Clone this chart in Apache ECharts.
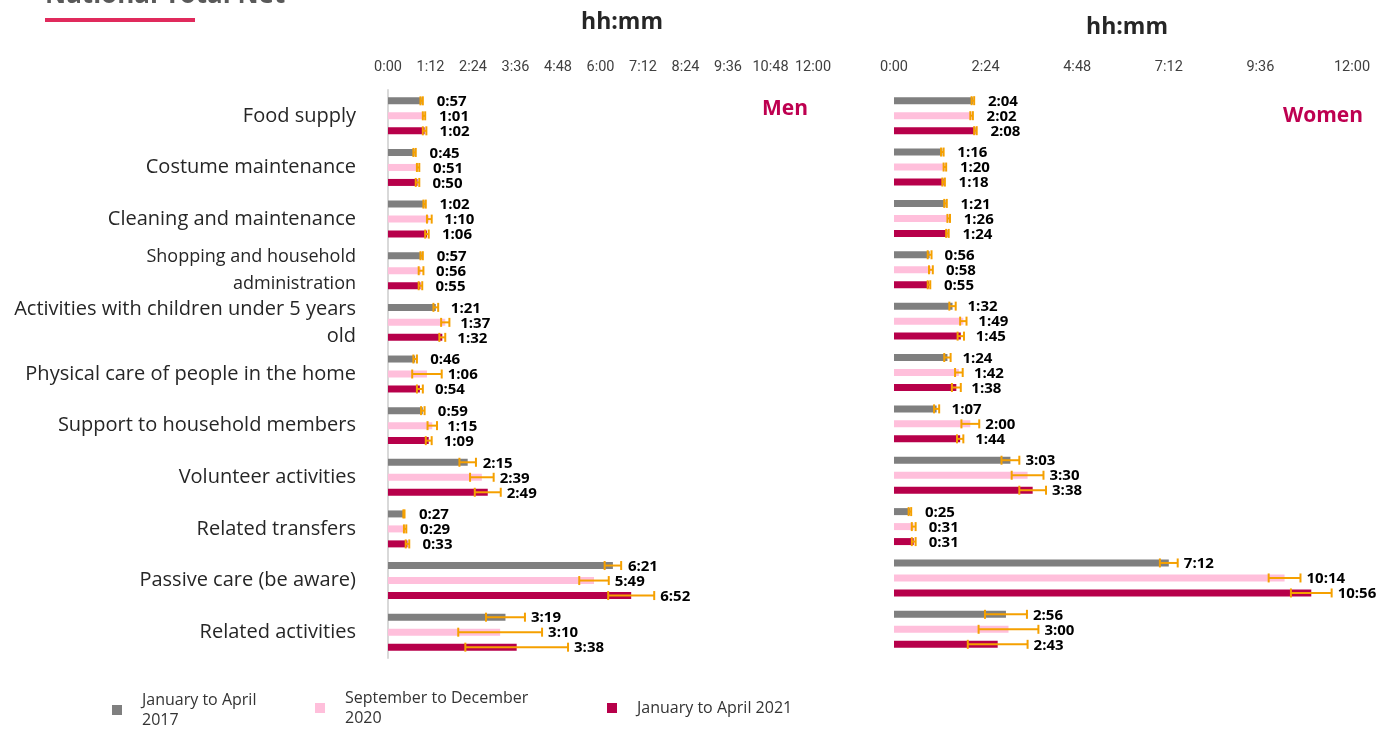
<!DOCTYPE html>
<html>
<head>
<meta charset="utf-8">
<script src="https://cdn.jsdelivr.net/npm/echarts@6/dist/echarts.min.js"></script>
<style>
html, body { margin: 0; padding: 0; background: #fff; }
#chart { width: 1381px; height: 733px; }
</style>
</head>
<body>
<div id="chart"></div>
<script>
// categories (top to bottom)
var categories = [
    'Food supply',
    'Costume maintenance',
    'Cleaning and maintenance',
    'Shopping and household\nadministration',
    'Activities with children under 5 years\nold',
    'Physical care of people in the home',
    'Support to household members',
    'Volunteer activities',
    'Related transfers',
    'Passive care (be aware)',
    'Related activities'
];
var periods = ['January to April 2017', 'September to December 2020', 'January to April 2021'];
var periodLabels = ['January to April\n2017', 'September to December\n2020', 'January to April 2021'];

// values in minutes
var men2017 = [57, 45, 62, 57, 81, 46, 59, 135, 27, 381, 199];
var men2020 = [61, 51, 70, 56, 97, 66, 75, 159, 29, 349, 190];
var men2021 = [62, 50, 66, 55, 92, 54, 69, 169, 33, 412, 218];
var menErr2017 = [2, 2, 2, 2, 4, 3, 3, 14, 1, 14, 33];
var menErr2020 = [2, 2, 4, 4, 7, 25, 8, 20, 2, 25, 71];
var menErr2021 = [3, 3, 3, 3, 5, 5, 5, 22, 3, 39, 87];

var women2017 = [124, 76, 81, 56, 92, 84, 67, 183, 25, 432, 176];
var women2020 = [122, 80, 86, 58, 109, 102, 120, 210, 31, 614, 180];
var women2021 = [128, 78, 84, 55, 105, 98, 104, 218, 31, 656, 163];
var womenErr2017 = [2, 2, 2, 3, 5, 5, 4, 14, 2, 14, 33];
var womenErr2020 = [2, 2, 2, 3, 5, 6, 14, 25, 3, 25, 47];
var womenErr2021 = [2, 2, 2, 2, 5, 7, 5, 21, 3, 32, 47];

var menTickStep = 72;
var womenTickStep = 144;
var axisMax = 720;

var colors = ['#7f7f7f', '#ffbfdb', '#b7004a'];
var orange = '#f5a000';

function hm(min) {
    var h = Math.floor(min / 60);
    var m = Math.round(min % 60);
    return h + ':' + (m < 10 ? '0' + m : m);
}

function errData(vals, errs) {
    return vals.map(function (v, i) {
        return [i, v - errs[i], v + errs[i], v];
    });
}

function errorBars(offset) {
    return function (params, api) {
        var cat = api.value(0);
        var lo = api.coord([api.value(1), cat]);
        var hi = api.coord([api.value(2), cat]);
        var end = api.coord([api.value(3), cat]);
        var y = lo[1] + offset;
        var cap = 4.5;
        var st = { stroke: orange, lineWidth: 2 };
        return {
            type: 'group',
            children: [
                { type: 'line', shape: { x1: lo[0], y1: y, x2: hi[0], y2: y }, style: st },
                { type: 'line', shape: { x1: lo[0], y1: y - cap, x2: lo[0], y2: y + cap }, style: st },
                { type: 'line', shape: { x1: hi[0], y1: y - cap, x2: hi[0], y2: y + cap }, style: st },
                {
                    type: 'text',
                    style: {
                        text: hm(api.value(3)),
                        x: Math.max(hi[0] + 6, end[0] + 15),
                        y: y + 1,
                        textVerticalAlign: 'middle',
                        font: 'bold 15px "Open Sans"',
                        fill: '#000'
                    }
                }
            ]
        };
    };
}

var xAxisBase = {
    type: 'value',
    position: 'top',
    min: 0,
    max: axisMax,
    axisLine: { show: false },
    axisTick: { show: false },
    splitLine: { show: false },
    axisLabel: {
        margin: 15,
        fontSize: 14.5,
        color: '#404040',
        fontFamily: 'Roboto, sans-serif',
        formatter: function (v) { return hm(v); }
    }
};

var menSets = [men2017, men2020, men2021];
var menErrs = [menErr2017, menErr2020, menErr2021];
var womenSets = [women2017, women2020, women2021];
var womenErrs = [womenErr2017, womenErr2020, womenErr2021];
var offsets = [-15, 0, 15];

var series = [];
[[menSets, menErrs, 0], [womenSets, womenErrs, 1]].forEach(function (g) {
    g[0].forEach(function (vals, k) {
        series.push({
            name: periods[k],
            type: 'bar',
            xAxisIndex: g[2],
            yAxisIndex: g[2],
            barWidth: 7,
            barGap: '114%',
            itemStyle: { color: colors[k] },
            data: vals
        });
    });
    g[0].forEach(function (vals, k) {
        series.push({
            name: periods[k],
            type: 'custom',
            xAxisIndex: g[2],
            yAxisIndex: g[2],
            clip: false,
            z: 5,
            encode: { x: [1, 2, 3], y: 0 },
            renderItem: errorBars(offsets[k]),
            data: errData(vals, g[1][k])
        });
    });
});

function legendItem(k, left, top) {
    return {
        left: left,
        top: top,
        data: [periods[k]],
        icon: 'rect',
        itemWidth: 10,
        itemHeight: 10,
        formatter: function () { return periodLabels[k]; },
        textStyle: {
            fontSize: 16,
            lineHeight: 20,
            color: '#333',
            fontFamily: '"Open Sans", sans-serif',
            padding: [0, 0, 0, 15]
        }
    };
}

var chart = echarts.init(document.getElementById('chart'));
chart.setOption({
    animation: false,
    textStyle: { fontFamily: '"Open Sans", sans-serif' },
    grid: [
        { left: 388, top: 90, width: 425, height: 568 },
        { left: 894, top: 90, width: 458, height: 565 }
    ],
    xAxis: [
        Object.assign({}, xAxisBase, { gridIndex: 0, interval: menTickStep }),
        Object.assign({}, xAxisBase, { gridIndex: 1, interval: womenTickStep })
    ],
    yAxis: [
        {
            type: 'category',
            gridIndex: 0,
            inverse: true,
            data: categories,
            axisTick: { show: false },
            axisLine: { lineStyle: { color: '#d9d9d9', width: 2 } },
            axisLabel: {
                margin: 32,
                fontSize: 20,
                lineHeight: 27,
                color: '#262626',
                fontFamily: '"Open Sans", sans-serif',
                formatter: function (v, i) {
                    return i === 3 ? v.split('\n').map(function (s) { return '{s|' + s + '}'; }).join('\n') : v;
                },
                rich: { s: { fontSize: 18, lineHeight: 27, color: '#262626', fontFamily: '"Open Sans", sans-serif' } }
            }
        },
        {
            type: 'category',
            gridIndex: 1,
            inverse: true,
            data: categories,
            axisTick: { show: false },
            axisLine: { show: false },
            axisLabel: { show: false }
        }
    ],
    legend: [
        legendItem(0, 107, 685),
        legendItem(1, 310, 683),
        legendItem(2, 602, 693)
    ],
    graphic: [
        {
            type: 'text', x: 45, y: 9,
            style: { text: 'National Total Net', font: 'bold 26px "Open Sans"', fill: '#595959', textVerticalAlign: 'bottom' }
        },
        { type: 'rect', shape: { x: 45, y: 18, width: 150, height: 4 }, style: { fill: '#e02a5c' } },
        {
            type: 'text', x: 622, y: 22,
            style: { text: 'hh:mm', font: 'bold 23px "Open Sans"', fill: '#262626', textAlign: 'center', textVerticalAlign: 'middle' }
        },
        {
            type: 'text', x: 1127, y: 27,
            style: { text: 'hh:mm', font: 'bold 23px "Open Sans"', fill: '#262626', textAlign: 'center', textVerticalAlign: 'middle' }
        },
        {
            type: 'text', x: 785, y: 109,
            style: { text: 'Men', font: 'bold 21px "Open Sans"', fill: '#be0050', textAlign: 'center', textVerticalAlign: 'middle' }
        },
        {
            type: 'text', x: 1323, y: 116,
            style: { text: 'Women', font: 'bold 21px "Open Sans"', fill: '#be0050', textAlign: 'center', textVerticalAlign: 'middle' }
        }
    ],
    series: series
});
</script>
</body>
</html>
